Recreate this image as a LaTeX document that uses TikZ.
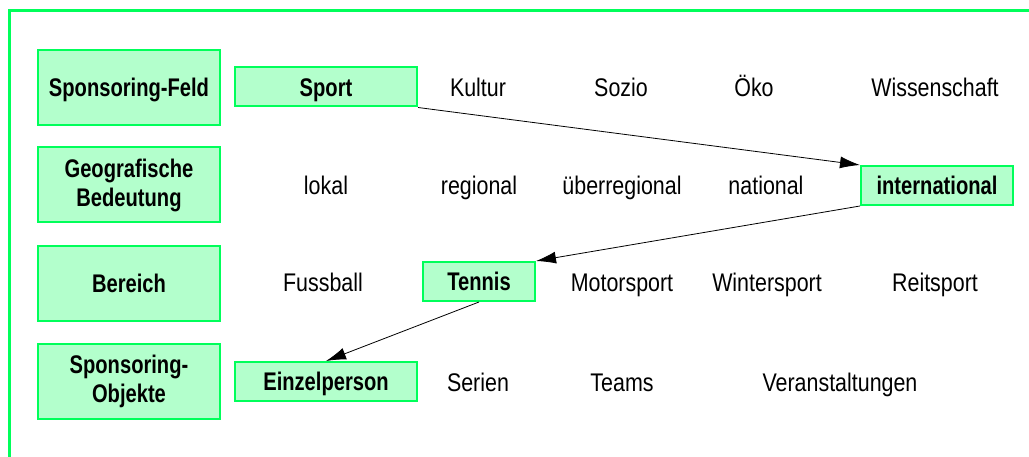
\documentclass[tikz,border=0pt]{standalone}
\usepackage{fontspec}
\setmainfont{Liberation Sans}[FakeStretch=0.84,BoldFeatures={FakeStretch=0.79}]
\usetikzlibrary{arrows.meta}
\definecolor{rahmengruen}{RGB}{0,255,90}
\definecolor{feldgruen}{RGB}{179,255,204}
\tikzset{
  kategorie/.style={draw=rahmengruen, fill=feldgruen, line width=2pt,
    minimum width=182pt, minimum height=75pt, inner sep=0pt, align=center,
    font=\bfseries\fontsize{25.5}{29}\selectfont},
  einzeilig/.style={text height=18.5pt, text depth=0pt},
  auswahl/.style={draw=rahmengruen, fill=feldgruen, line width=2pt,
    minimum height=39pt, inner sep=0pt, einzeilig,
    font=\bfseries\fontsize{25.5}{29}\selectfont},
  wert/.style={inner sep=0pt, einzeilig, font=\fontsize{25.5}{29}\selectfont},
  pfeil/.style={-{Latex[length=20pt,width=12pt]}, line width=0.8pt},
}
\begin{document}
\begin{tikzpicture}[x=1pt, y=-1pt]
    \useasboundingbox (0,0) rectangle (1029,457);
    \draw[rahmengruen, line width=3pt] (1029,11) -- (9,11) -- (9,457);% frame
    % categories on the left
    \node[kategorie, einzeilig] (feld) at (129,87.5) {Sponsoring-Feld};
    \node[kategorie] (geo) at (129,185) {Geografische\\Bedeutung};
    \node[kategorie, einzeilig] (bereich) at (129,283.5) {Bereich};
    \node[kategorie] (objekte) at (129,381.5) {Sponsoring-\\Objekte};
    % row 1: sponsoring field
    \node[auswahl, minimum width=182pt] (sport) at (326,87) {Sport};
    \node[wert] (kultur) at (478,87) {Kultur};
    \node[wert] (sozio) at (621,87) {Sozio};
    \node[wert] (oeko) at (754,87) {Öko};
    \node[wert] (wissen) at (935,87) {Wissenschaft};
    % row 2: geographic range
    \node[wert] (lokal) at (326,185.5) {lokal};
    \node[wert] (regional) at (479,185.5) {regional};
    \node[wert] (ueber) at (622,185.5) {überregional};
    \node[wert] (national) at (766,185.5) {national};
    \node[auswahl, minimum width=152pt] (inter) at (937,185.5) {international};
    % row 3: area
    \node[wert] (fussball) at (323,282) {Fussball};
    \node[auswahl, minimum width=112pt] (tennis) at (479,281.5) {Tennis};
    \node[wert] (motor) at (622,282) {Motorsport};
    \node[wert] (winter) at (767,282) {Wintersport};
    \node[wert] (reit) at (935,282) {Reitsport};
    % row 4: objects
    \node[auswahl, minimum width=182pt] (einzel) at (326,381.5) {Einzelperson};
    \node[wert] (serien) at (478,382) {Serien};
    \node[wert] (teams) at (622,382) {Teams};
    \node[wert] (veranst) at (840,382) {Veranstaltungen};
    % chosen path
    \draw[pfeil] (sport.south east) -- (inter.north west);
    \draw[pfeil] (inter.south west) -- (tennis.north east);
    \draw[pfeil] (tennis.south) -- (einzel.north);
\end{tikzpicture}
\end{document}
